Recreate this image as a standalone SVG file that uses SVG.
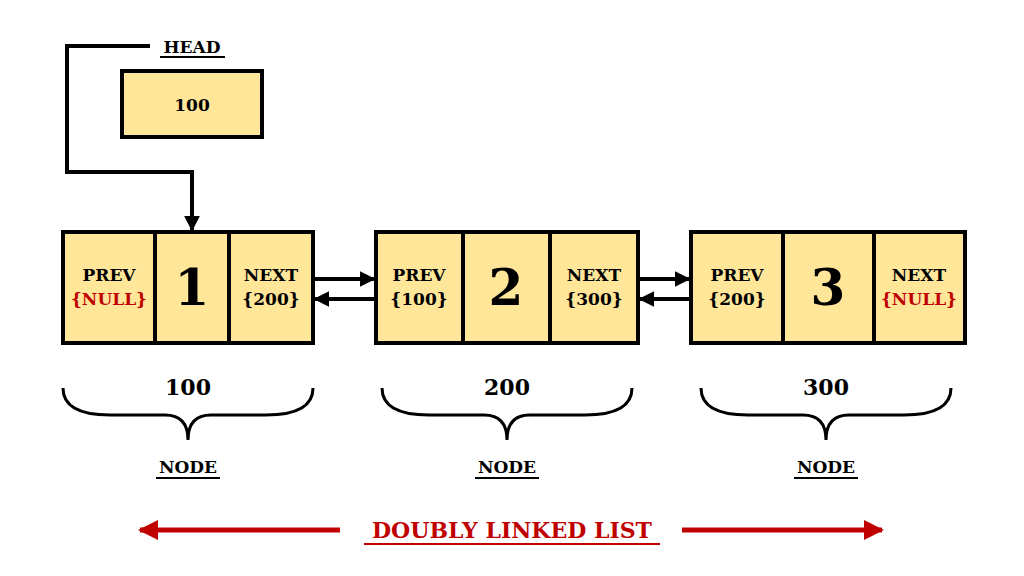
<svg xmlns="http://www.w3.org/2000/svg" width="1024" height="576" viewBox="0 0 1024 576">
<style>
.b{fill:#FFE699;stroke:#000;stroke-width:4}
.d{stroke:#000;stroke-width:4}
text{font-family:"DejaVu Serif","Liberation Serif",serif;font-weight:bold;text-anchor:middle}
.s{font-size:17px}
.n{font-size:50px}
.l{font-size:22px}
.r{fill:#C00000}
.c{fill:none;stroke:#000;stroke-width:3}
</style>
<defs>
<marker id="a" viewBox="0 0 10 10" refX="9" refY="5" markerWidth="4" markerHeight="4" orient="auto"><path d="M0,0L10,5L0,10z" fill="#000"/></marker>
<marker id="ar" viewBox="0 0 10 10" refX="9" refY="5" markerWidth="4" markerHeight="4" orient="auto"><path d="M0,0L10,5L0,10z" fill="#C00000"/></marker>
</defs>
<g id="head">
<text x="192" y="53" class="s">HEAD</text>
<line x1="160" y1="57" x2="225" y2="57" stroke="#000" stroke-width="2"/>
<rect class="b" x="122" y="71" width="140" height="66"/>
<text x="192" y="111" class="s">100</text>
</g>
<g id="node1">
<rect class="b" x="63" y="232" width="250" height="111"/>
<line class="d" x1="155" y1="232" x2="155" y2="343"/><line class="d" x1="229" y1="232" x2="229" y2="343"/>
<text x="109" y="281" class="s">PREV</text><text x="109" y="305" class="s r">{NULL}</text>
<text x="192" y="305" class="n">1</text>
<text x="271" y="281" class="s">NEXT</text><text x="271" y="305" class="s">{200}</text>
</g>
<g id="node2">
<rect class="b" x="376" y="232" width="262" height="111"/>
<line class="d" x1="463" y1="232" x2="463" y2="343"/><line class="d" x1="550" y1="232" x2="550" y2="343"/>
<text x="419" y="281" class="s">PREV</text><text x="419" y="305" class="s">{100}</text>
<text x="506" y="305" class="n">2</text>
<text x="594" y="281" class="s">NEXT</text><text x="594" y="305" class="s">{300}</text>
</g>
<g id="node3">
<rect class="b" x="691" y="232" width="274" height="111"/>
<line class="d" x1="783" y1="232" x2="783" y2="343"/><line class="d" x1="874" y1="232" x2="874" y2="343"/>
<text x="737" y="281" class="s">PREV</text><text x="737" y="305" class="s">{200}</text>
<text x="828" y="305" class="n">3</text>
<text x="919" y="281" class="s">NEXT</text><text x="919" y="305" class="s r">{NULL}</text>
</g>
<g id="labels">
<text x="188" y="395" class="l">100</text><text x="507" y="395" class="l">200</text><text x="826" y="395" class="l">300</text>
<text x="188" y="473" class="s">NODE</text><line x1="156" y1="478" x2="220" y2="478" stroke="#000" stroke-width="2"/>
<text x="507" y="473" class="s">NODE</text><line x1="475" y1="478" x2="539" y2="478" stroke="#000" stroke-width="2"/>
<text x="826" y="473" class="s">NODE</text><line x1="794" y1="478" x2="858" y2="478" stroke="#000" stroke-width="2"/>
<text x="512" y="538" class="l r">DOUBLY LINKED LIST</text>
<line x1="364" y1="544" x2="660" y2="544" stroke="#C00000" stroke-width="2"/>
</g>
<g id="connectors">
<polyline points="150,46 67,46 67,172 192,172 192,230" fill="none" stroke="#000" stroke-width="4" marker-end="url(#a)"/>
<line x1="315" y1="279" x2="374" y2="279" stroke="#000" stroke-width="4" marker-end="url(#a)"/>
<line x1="374" y1="299" x2="315" y2="299" stroke="#000" stroke-width="4" marker-end="url(#a)"/>
<line x1="640" y1="279" x2="689" y2="279" stroke="#000" stroke-width="4" marker-end="url(#a)"/>
<line x1="689" y1="299" x2="640" y2="299" stroke="#000" stroke-width="4" marker-end="url(#a)"/>
<line x1="340" y1="530" x2="140" y2="530" stroke="#C00000" stroke-width="5" marker-end="url(#ar)"/>
<line x1="682" y1="530" x2="882" y2="530" stroke="#C00000" stroke-width="5" marker-end="url(#ar)"/>
<path class="c" d="M63,388 Q63,415 110,415 L165,415 Q188,415 188,440 Q188,415 211,415 L266,415 Q313,415 313,388"/>
<path class="c" d="M382,388 Q382,415 429,415 L484,415 Q507,415 507,440 Q507,415 530,415 L585,415 Q632,415 632,388"/>
<path class="c" d="M701,388 Q701,415 748,415 L803,415 Q826,415 826,440 Q826,415 849,415 L904,415 Q951,415 951,388"/>
</g>
</svg>
